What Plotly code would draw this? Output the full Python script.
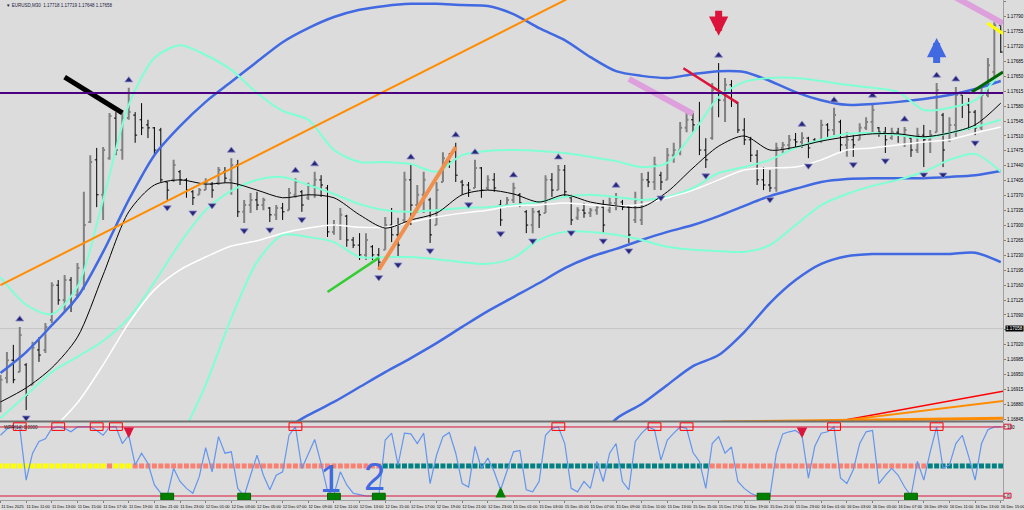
import plotly.graph_objects as go

# ---------------- data ----------------
bars = list(range(157))

open_ = [1.16891, 1.16942, 1.16984, 1.16956, 1.16973, 1.16926, 1.17008, 1.17008, 1.17078, 1.17160,
         1.17125, 1.17172, 1.17137, 1.17153, 1.17308, 1.17454, 1.17372, 1.17458, 1.17552, 1.17477,
         1.17552, 1.17559, 1.17548, 1.17536, 1.17529, 1.17524, 1.17402, 1.17407, 1.17426, 1.17407,
         1.17379, 1.17372, 1.17383, 1.17397, 1.17400, 1.17426, 1.17407, 1.17442, 1.17332, 1.17348,
         1.17360, 1.17348, 1.17341, 1.17325, 1.17341, 1.17336, 1.17372, 1.17379, 1.17365, 1.17393,
         1.17407, 1.17388, 1.17285, 1.17301, 1.17322, 1.17266, 1.17254, 1.17231, 1.17250, 1.17231,
         1.17243, 1.17301, 1.17278, 1.17313, 1.17407, 1.17348, 1.17372, 1.17360, 1.17301, 1.17402,
         1.17458, 1.17454, 1.17402, 1.17395, 1.17388, 1.17435, 1.17388, 1.17407, 1.17348, 1.17348,
         1.17360, 1.17372, 1.17332, 1.17301, 1.17332, 1.17329, 1.17407, 1.17383, 1.17430, 1.17365,
         1.17318, 1.17336, 1.17329, 1.17336, 1.17343, 1.17336, 1.17353, 1.17355, 1.17343, 1.17313,
         1.17313, 1.17407, 1.17402, 1.17418, 1.17407, 1.17465, 1.17477, 1.17529, 1.17548, 1.17536,
         1.17477, 1.17505, 1.17618, 1.17594, 1.17630, 1.17587, 1.17524, 1.17501, 1.17465, 1.17407,
         1.17395, 1.17388, 1.17482, 1.17489, 1.17501, 1.17496, 1.17505, 1.17501, 1.17498, 1.17536,
         1.17524, 1.17543, 1.17489, 1.17501, 1.17501, 1.17529, 1.17543, 1.17529, 1.17519, 1.17505,
         1.17519, 1.17512, 1.17505, 1.17477, 1.17512, 1.17501, 1.17519, 1.17559, 1.17501, 1.17536,
         1.17606, 1.17583, 1.17566, 1.17529, 1.17606, 1.17660, 1.17770]

high = [1.16949, 1.17003, 1.17020, 1.17062, 1.16977, 1.17027, 1.17038, 1.17071, 1.17167, 1.17172,
        1.17184, 1.17179, 1.17212, 1.17379, 1.17465, 1.17482, 1.17484, 1.17564, 1.17566, 1.17571,
        1.17623, 1.17566, 1.17587, 1.17548, 1.17531, 1.17529, 1.17402, 1.17454, 1.17430, 1.17411,
        1.17383, 1.17388, 1.17411, 1.17402, 1.17437, 1.17437, 1.17458, 1.17454, 1.17360, 1.17376,
        1.17379, 1.17365, 1.17343, 1.17348, 1.17353, 1.17388, 1.17411, 1.17383, 1.17400, 1.17426,
        1.17418, 1.17395, 1.17313, 1.17341, 1.17325, 1.17273, 1.17282, 1.17282, 1.17254, 1.17247,
        1.17320, 1.17341, 1.17318, 1.17426, 1.17442, 1.17395, 1.17426, 1.17365, 1.17402, 1.17472,
        1.17470, 1.17494, 1.17407, 1.17402, 1.17454, 1.17437, 1.17418, 1.17423, 1.17360, 1.17367,
        1.17400, 1.17376, 1.17336, 1.17341, 1.17336, 1.17418, 1.17423, 1.17442, 1.17442, 1.17372,
        1.17343, 1.17353, 1.17341, 1.17348, 1.17360, 1.17365, 1.17376, 1.17360, 1.17348, 1.17379,
        1.17423, 1.17426, 1.17461, 1.17426, 1.17482, 1.17494, 1.17543, 1.17564, 1.17564, 1.17590,
        1.17505, 1.17634, 1.17681, 1.17646, 1.17641, 1.17590, 1.17552, 1.17508, 1.17477, 1.17437,
        1.17430, 1.17494, 1.17496, 1.17512, 1.17517, 1.17519, 1.17508, 1.17505, 1.17548, 1.17540,
        1.17576, 1.17548, 1.17519, 1.17512, 1.17540, 1.17554, 1.17587, 1.17531, 1.17531, 1.17529,
        1.17529, 1.17531, 1.17508, 1.17529, 1.17536, 1.17524, 1.17634, 1.17564, 1.17554, 1.17625,
        1.17606, 1.17599, 1.17571, 1.17623, 1.17693, 1.17777, 1.17777]

low = [1.16862, 1.16930, 1.16930, 1.16956, 1.16867, 1.16926, 1.16980, 1.17001, 1.17071, 1.17114,
       1.17097, 1.17097, 1.17130, 1.17149, 1.17306, 1.17343, 1.17313, 1.17454, 1.17465, 1.17454,
       1.17548, 1.17494, 1.17512, 1.17505, 1.17465, 1.17402, 1.17360, 1.17402, 1.17395, 1.17365,
       1.17348, 1.17372, 1.17383, 1.17365, 1.17395, 1.17400, 1.17372, 1.17320, 1.17306, 1.17329,
       1.17336, 1.17336, 1.17308, 1.17313, 1.17313, 1.17336, 1.17365, 1.17332, 1.17360, 1.17365,
       1.17367, 1.17273, 1.17278, 1.17266, 1.17250, 1.17247, 1.17219, 1.17219, 1.17219, 1.17196,
       1.17243, 1.17261, 1.17226, 1.17308, 1.17301, 1.17329, 1.17329, 1.17259, 1.17301, 1.17402,
       1.17435, 1.17402, 1.17372, 1.17367, 1.17388, 1.17365, 1.17383, 1.17379, 1.17299, 1.17343,
       1.17353, 1.17343, 1.17282, 1.17282, 1.17294, 1.17329, 1.17367, 1.17383, 1.17367, 1.17301,
       1.17313, 1.17318, 1.17320, 1.17325, 1.17282, 1.17329, 1.17336, 1.17336, 1.17259, 1.17306,
       1.17301, 1.17390, 1.17383, 1.17383, 1.17407, 1.17447, 1.17465, 1.17519, 1.17517, 1.17465,
       1.17435, 1.17501, 1.17554, 1.17543, 1.17578, 1.17517, 1.17489, 1.17449, 1.17395, 1.17383,
       1.17379, 1.17379, 1.17470, 1.17477, 1.17482, 1.17482, 1.17458, 1.17494, 1.17494, 1.17508,
       1.17512, 1.17472, 1.17461, 1.17461, 1.17501, 1.17524, 1.17517, 1.17508, 1.17470, 1.17501,
       1.17494, 1.17484, 1.17461, 1.17470, 1.17437, 1.17470, 1.17519, 1.17437, 1.17496, 1.17508,
       1.17552, 1.17524, 1.17512, 1.17524, 1.17601, 1.17637, 1.17705]

close = [1.16938, 1.16984, 1.16938, 1.17043, 1.16902, 1.17013, 1.16996, 1.17062, 1.17160, 1.17125,
         1.17172, 1.17114, 1.17200, 1.17301, 1.17449, 1.17372, 1.17477, 1.17557, 1.17477, 1.17552,
         1.17566, 1.17512, 1.17529, 1.17529, 1.17477, 1.17407, 1.17383, 1.17442, 1.17407, 1.17383,
         1.17365, 1.17383, 1.17402, 1.17383, 1.17430, 1.17411, 1.17442, 1.17332, 1.17348, 1.17360,
         1.17348, 1.17360, 1.17325, 1.17341, 1.17332, 1.17376, 1.17402, 1.17348, 1.17393, 1.17407,
         1.17395, 1.17285, 1.17301, 1.17325, 1.17266, 1.17254, 1.17231, 1.17266, 1.17231, 1.17214,
         1.17301, 1.17278, 1.17254, 1.17407, 1.17348, 1.17372, 1.17407, 1.17278, 1.17383, 1.17458,
         1.17449, 1.17418, 1.17395, 1.17383, 1.17435, 1.17383, 1.17407, 1.17388, 1.17313, 1.17360,
         1.17388, 1.17353, 1.17301, 1.17332, 1.17325, 1.17407, 1.17383, 1.17430, 1.17379, 1.17313,
         1.17336, 1.17329, 1.17336, 1.17343, 1.17301, 1.17353, 1.17365, 1.17343, 1.17278, 1.17360,
         1.17407, 1.17402, 1.17442, 1.17402, 1.17465, 1.17477, 1.17529, 1.17548, 1.17536, 1.17477,
         1.17454, 1.17618, 1.17594, 1.17630, 1.17594, 1.17524, 1.17501, 1.17465, 1.17407, 1.17395,
         1.17388, 1.17482, 1.17489, 1.17501, 1.17496, 1.17505, 1.17482, 1.17498, 1.17536, 1.17524,
         1.17559, 1.17489, 1.17501, 1.17489, 1.17529, 1.17543, 1.17571, 1.17519, 1.17501, 1.17519,
         1.17512, 1.17524, 1.17477, 1.17512, 1.17501, 1.17512, 1.17618, 1.17477, 1.17536, 1.17606,
         1.17583, 1.17566, 1.17529, 1.17606, 1.17676, 1.17770, 1.17707]

# indicator lines, read every 4th bar
ind_x = list(range(0, 157, 4))
ma_fast = [1.16886, 1.16919, 1.16966, 1.17038, 1.17184, 1.17332, 1.17395, 1.17407, 1.17397, 1.17400,
           1.17383, 1.17365, 1.17372, 1.17365, 1.17325, 1.17294, 1.17313, 1.17329, 1.17372, 1.17383,
           1.17374, 1.17355, 1.17372, 1.17355, 1.17346, 1.17343, 1.17379, 1.17435, 1.17486, 1.17510,
           1.17477, 1.17484, 1.17498, 1.17508, 1.17515, 1.17515, 1.17508, 1.17517, 1.17536, 1.17587]
ma_slow = [1.16703, 1.16762, 1.16820, 1.16884, 1.16973, 1.17071, 1.17149, 1.17196, 1.17226, 1.17252,
           1.17264, 1.17282, 1.17294, 1.17301, 1.17296, 1.17296, 1.17308, 1.17320, 1.17329, 1.17336,
           1.17346, 1.17348, 1.17353, 1.17348, 1.17346, 1.17350, 1.17365, 1.17383, 1.17407, 1.17430,
           1.17435, 1.17437, 1.17454, 1.17477, 1.17482, 1.17489, 1.17496, 1.17501, 1.17517, 1.17531]
bb_up = [1.17179, 1.17114, 1.17092, 1.17156, 1.17360, 1.17583, 1.17693, 1.17723, 1.17700, 1.17665,
         1.17611, 1.17569, 1.17548, 1.17477, 1.17449, 1.17449, 1.17444, 1.17426, 1.17465, 1.17475,
         1.17477, 1.17475, 1.17470, 1.17461, 1.17451, 1.17437, 1.17447, 1.17517, 1.17601, 1.17637,
         1.17646, 1.17646, 1.17639, 1.17630, 1.17623, 1.17613, 1.17571, 1.17576, 1.17594, 1.17660]
bb_mid = [1.16848, 1.16902, 1.16956, 1.16992, 1.17029, 1.17083, 1.17167, 1.17259, 1.17336, 1.17381,
          1.17407, 1.17414, 1.17395, 1.17374, 1.17350, 1.17336, 1.17332, 1.17336, 1.17341, 1.17343,
          1.17348, 1.17355, 1.17367, 1.17372, 1.17367, 1.17360, 1.17367, 1.17388, 1.17423, 1.17437,
          1.17454, 1.17482, 1.17501, 1.17515, 1.17517, 1.17512, 1.17505, 1.17517, 1.17531, 1.17548]
bb_low = [1.16518, 1.16691, 1.16820, 1.16827, 1.16698, 1.16583, 1.16642, 1.16794, 1.16926, 1.17083,
          1.17214, 1.17278, 1.17273, 1.17261, 1.17226, 1.17226, 1.17226, 1.17221, 1.17214, 1.17210,
          1.17224, 1.17266, 1.17285, 1.17285, 1.17278, 1.17266, 1.17250, 1.17243, 1.17240, 1.17238,
          1.17254, 1.17301, 1.17348, 1.17374, 1.17393, 1.17407, 1.17426, 1.17454, 1.17468, 1.17426]
bb2_up = [1.16954, 1.17003, 1.17066, 1.17132, 1.17238, 1.17360, 1.17465, 1.17533, 1.17590, 1.17637,
          1.17684, 1.17730, 1.17763, 1.17789, 1.17806, 1.17815, 1.17820, 1.17820, 1.17817, 1.17815,
          1.17796, 1.17763, 1.17735, 1.17695, 1.17662, 1.17651, 1.17646, 1.17655, 1.17662, 1.17660,
          1.17639, 1.17613, 1.17594, 1.17583, 1.17585, 1.17590, 1.17597, 1.17606, 1.17620, 1.17639]
bb2_mid = [None] * 11 + [1.16820, 1.16855, 1.16886, 1.16921, 1.16956, 1.16989, 1.17024, 1.17062, 1.17099,
                         1.17132, 1.17165, 1.17200, 1.17226, 1.17245, 1.17266, 1.17285, 1.17301, 1.17322,
                         1.17346, 1.17369, 1.17386, 1.17402, 1.17409, 1.17411, 1.17411, 1.17411, 1.17414,
                         1.17418, 1.17428]
bb2_low = [None] * 23 + [1.16773, 1.16846, 1.16881, 1.16926, 1.16970, 1.16996, 1.17050, 1.17118, 1.17172,
                         1.17210, 1.17228, 1.17233, 1.17233, 1.17233, 1.17233, 1.17236, 1.17214]

# oscillator (sub window)
osc = [88, 97, 100, 99, 23, 62, 79, 83, 98, 100,
       98, 93, 100, 100, 100, 95, 88, 100, 100, 76,
       88, 45, 62, 47, 16, 4, 0, 40, 21, 11,
       4, 28, 70, 35, 86, 62, 64, 11, 0, 30,
       59, 30, 9, 30, 35, 88, 100, 40, 62, 82,
       47, 7, 2, 35, 16, 4, 2, 0, 0, 0,
       81, 91, 45, 91, 90, 76, 91, 18, 59, 86,
       92, 62, 18, 13, 72, 40, 55, 35, 9, 35,
       64, 66, 9, 6, 21, 88, 98, 100, 76, 11,
       6, 21, 11, 50, 21, 62, 76, 21, 9, 79,
       91, 100, 96, 52, 81, 91, 100, 98, 63, 50,
       11, 76, 86, 62, 71, 21, 11, 4, 0, 0,
       0, 62, 90, 93, 95, 88, 26, 72, 91, 93,
       100, 26, 18, 38, 76, 93, 95, 18, 30, 40,
       30, 13, 0, 50, 23, 64, 100, 40, 45, 76,
       88, 57, 23, 76, 96, 100, 100]
state_runs = [("Y", 17), ("S", 1), ("Y", 3), ("S", 39), ("T", 51), ("S", 34), ("T", 12)]
ob_marks = [3, 9, 15, 18, 46, 87, 102, 107, 130, 146]
os_marks = [26, 38, 52, 59, 119, 142]
sub_dn_arrows = [(20, 84), (125, 84)]
sub_up_arrows = [(78, 13)]
sub_texts = [("1", 51.4, 25), ("2", 58.4, 27)]

# fractals
frac_up = [3, 20, 36, 46, 49, 64, 71, 74, 80, 87, 96, 112, 125, 130, 136, 141, 146, 149]
frac_dn = [4, 26, 30, 33, 38, 42, 47, 59, 62, 67, 73, 78, 83, 89, 94, 98, 103, 110, 120, 126,
           133, 138, 144, 147, 152]

# big signal arrows (bar, price of tip)
sig_dn = (112, 1.17745)
sig_up = (146, 1.17740)

# objects: trend lines (bar0, price0, bar1, price1)
tl_x0 = [0, 59, 51, 10, 98, 148, 106.5, 151.5, 153.9, 130, 130.5, 112.4]
tl_y0 = [1.17160, 1.17196, 1.17144, 1.17648, 1.17644, 1.17843, 1.17669, 1.17613, 1.17775, 1.16839, 1.16841, 1.16839]
tl_x1 = [156, 71, 59, 19, 108, 156.35, 115, 156.35, 156.35, 156.35, 156.35, 156.35]
tl_y1 = [1.18345, 1.17484, 1.17224, 1.17564, 1.17562, 1.17774, 1.17587, 1.17660, 1.17750, 1.16911, 1.16888, 1.16848]
tl_style = [("#FF8C00", 2), ("#F0904C", 4), ("#32CD32", 2.5), ("#000000", 5), ("#DDA0DD", 6),
            ("#DDA0DD", 6), ("#DC143C", 2.5), ("#006400", 3), ("#FFFF00", 3), ("#FF0000", 1.5),
            ("#FF8C00", 2), ("#FF8C00", 3)]
hline_level = 1.17611
bid_price = 1.17058

tick_idx = list(range(0, 157, 4))
tick_text = ["11 Dec 2025", "11 Dec 11:00", "11 Dec 13:00", "11 Dec 15:00", "11 Dec 17:00",
             "11 Dec 19:00", "11 Dec 21:00", "11 Dec 23:00", "12 Dec 01:00", "12 Dec 03:00",
             "12 Dec 05:00", "12 Dec 07:00", "12 Dec 09:00", "12 Dec 11:00", "12 Dec 13:00",
             "12 Dec 15:00", "12 Dec 17:00", "12 Dec 19:00", "12 Dec 21:00", "12 Dec 23:00",
             "15 Dec 01:00", "15 Dec 03:00", "15 Dec 05:00", "15 Dec 07:00", "15 Dec 09:00",
             "15 Dec 11:00", "15 Dec 13:00", "15 Dec 15:00", "15 Dec 17:00", "15 Dec 19:00",
             "15 Dec 21:00", "15 Dec 23:00", "16 Dec 01:00", "16 Dec 03:00", "16 Dec 05:00",
             "16 Dec 07:00", "16 Dec 09:00", "16 Dec 11:00", "16 Dec 13:00", "16 Dec 15:00"]
price_ticks = ["1.17825", "1.17790", "1.17755", "1.17720", "1.17685", "1.17650", "1.17615", "1.17580",
               "1.17545", "1.17510", "1.17475", "1.17440", "1.17405", "1.17370", "1.17335", "1.17300",
               "1.17265", "1.17230", "1.17195", "1.17160", "1.17125", "1.17090", "1.17055", "1.17020",
               "1.16985", "1.16950", "1.16915", "1.16880", "1.16845"]

# ---------------- figure ----------------
BG = "#DCDCDC"
FONT = "Liberation Sans"
fig = go.Figure()

fig.add_trace(go.Ohlc(x=bars, open=open_, high=high, low=low, close=close,
                      increasing=dict(line=dict(color="#808080", width=2)),
                      decreasing=dict(line=dict(color="#000000", width=1)),
                      tickwidth=0.3, xaxis="x", yaxis="y", hoverinfo="skip", showlegend=False))


def add_line(xs, ys, color, width, yaxis="y", shape="spline"):
    fig.add_trace(go.Scatter(x=xs, y=ys, mode="lines", xaxis="x", yaxis=yaxis,
                             line=dict(color=color, width=width, shape=shape, smoothing=0.8),
                             hoverinfo="skip", showlegend=False))


for s in (bb2_up, bb2_mid, bb2_low):
    add_line(ind_x, s, "#4169E1", 2.5)
for s in (bb_up, bb_mid, bb_low):
    add_line(ind_x, s, "#7FFFD4", 2)
add_line(ind_x, ma_slow, "#FFFFFF", 1.5)
add_line(ind_x, ma_fast, "#000000", 1)

for x0, y0, x1, y1, (c, w) in zip(tl_x0, tl_y0, tl_x1, tl_y1, tl_style):
    add_line([x0, x1], [y0, y1], c, w, shape="linear")

# fractal markers
off = 0.00018
fig.add_trace(go.Scatter(x=frac_up, y=[high[i] + off for i in frac_up], mode="markers",
                         marker=dict(symbol="triangle-up", size=7, color="#26267A",
                                     line=dict(color="#9090C8", width=0.8)),
                         xaxis="x", yaxis="y", hoverinfo="skip", showlegend=False))
fig.add_trace(go.Scatter(x=frac_dn, y=[low[i] - off for i in frac_dn], mode="markers",
                         marker=dict(symbol="triangle-down", size=7, color="#26267A",
                                     line=dict(color="#9090C8", width=0.8)),
                         xaxis="x", yaxis="y", hoverinfo="skip", showlegend=False))

# sub window
state = []
for k, n in state_runs:
    state += [k] * n
cmap = {"Y": "#FFFF00", "S": "#FA8072", "T": "#008080"}
fig.add_trace(go.Scatter(x=bars, y=[43.5] * len(bars), mode="markers",
                         marker=dict(symbol="square", size=5, color=[cmap[s] for s in state], line=dict(width=0)),
                         xaxis="x", yaxis="y2", hoverinfo="skip", showlegend=False))
add_line(bars, osc, "#6495ED", 1.2, yaxis="y2", shape="linear")

shapes = []
shapes.append(dict(type="line", xref="paper", yref="paper", x0=0, x1=1, y0=0.157, y1=0.157,
                   line=dict(color="#707070", width=2)))
for lvl in (100, 0):
    shapes.append(dict(type="line", xref="paper", yref="y2", x0=0, x1=1, y0=lvl, y1=lvl,
                       line=dict(color="#DC143C", width=1)))
shapes.append(dict(type="line", xref="paper", yref="y", x0=0, x1=1, y0=bid_price, y1=bid_price,
                   line=dict(color="#C4C4C4", width=1), layer="below"))
shapes.append(dict(type="line", xref="paper", yref="y", x0=0, x1=1, y0=hline_level, y1=hline_level,
                   line=dict(color="#4B0082", width=2)))
for c in ob_marks:
    shapes.append(dict(type="rect", xref="x", yref="y2", x0=c - 1, x1=c + 1, y0=95, y1=106,
                       line=dict(color="#FF0000", width=1)))
for c in os_marks:
    shapes.append(dict(type="rect", xref="x", yref="y2", x0=c - 1, x1=c + 1, y0=-5.5, y1=4,
                       fillcolor="#008000", line=dict(color="#006400", width=1)))
for lvl in (100, 0):
    shapes.append(dict(type="rect", xref="paper", yref="y2", x0=1.001, x1=1.008, y0=lvl - 3, y1=lvl + 4,
                       line=dict(color="#DC143C", width=1)))

ann = []
ann.append(dict(x=sig_dn[0], y=sig_dn[1], xref="x", yref="y", ax=0, ay=-27, text=" ", font=dict(size=1),
                showarrow=True, arrowhead=2, arrowsize=0.55, arrowwidth=7, arrowcolor="#DC143C", standoff=0))
ann.append(dict(x=sig_up[0], y=sig_up[1], xref="x", yref="y", ax=0, ay=27, text=" ", font=dict(size=1),
                showarrow=True, arrowhead=2, arrowsize=0.55, arrowwidth=7, arrowcolor="#4169E1", standoff=0))
for b, v in sub_dn_arrows:
    ann.append(dict(x=b, y=v, xref="x", yref="y2", ax=0, ay=-12, text=" ", font=dict(size=1),
                    showarrow=True, arrowhead=2, arrowsize=0.6, arrowwidth=3.5, arrowcolor="#DC143C", standoff=0))
for b, v in sub_up_arrows:
    ann.append(dict(x=b, y=v, xref="x", yref="y2", ax=0, ay=12, text=" ", font=dict(size=1),
                    showarrow=True, arrowhead=2, arrowsize=0.6, arrowwidth=3.5, arrowcolor="#008000", standoff=0))
for t, b, v in sub_texts:
    ann.append(dict(x=b, y=v, xref="x", yref="y2", text=t, showarrow=False,
                    font=dict(size=38, color="#4169E1", family=FONT)))
ann.append(dict(x=0.004, y=0.998, xref="paper", yref="paper", xanchor="left", yanchor="top", showarrow=False,
                text="▼ EURUSD,M30  1.17718 1.17719 1.17648 1.17658",
                font=dict(size=4.5, color="#202040", family=FONT)))
ann.append(dict(x=0.002, y=0.155, xref="paper", yref="paper", xanchor="left", yanchor="top", showarrow=False,
                text="WPR(14) 0.0000", font=dict(size=4.5, color="#202020", family=FONT)))
ann.append(dict(x=1, y=bid_price, xref="paper", yref="y", xanchor="left", xshift=2, showarrow=False,
                text="1.17058", bgcolor="#000000", borderpad=0, font=dict(size=4.5, color="#FFFFFF", family=FONT)))

axis_font = dict(size=4.5, color="#000000", family=FONT)
fig.update_layout(
    width=1024, height=510, margin=dict(l=0, r=21, t=0, b=10),
    paper_bgcolor=BG, plot_bgcolor=BG, showlegend=False,
    shapes=shapes, annotations=ann,
    xaxis=dict(domain=[0, 1], range=[-0.08, 156.35], anchor="y2", showgrid=False, zeroline=False,
               tickmode="array", tickvals=tick_idx, ticktext=tick_text, tickangle=0,
               tickfont=dict(size=4, color="#000000", family=FONT),
               ticks="outside", ticklen=2, tickcolor="#808080", showline=True, linecolor="#A0A0A0", linewidth=1,
               ticklabelshift=12, ticklabeloverflow="allow", rangeslider=dict(visible=False), fixedrange=True),
    yaxis=dict(domain=[0.158, 1], range=[1.168413, 1.17829], side="right", anchor="x", showgrid=False,
               zeroline=False, tickmode="array", tickvals=[float(s) for s in price_ticks], ticktext=price_ticks,
               tickfont=axis_font, ticks="outside", ticklen=2, tickcolor="#808080",
               showline=True, linecolor="#A0A0A0", linewidth=1, fixedrange=True),
    yaxis2=dict(domain=[0, 0.156], range=[-5.8, 107.2], side="right", anchor="x", showgrid=False,
                zeroline=False, tickmode="array", tickvals=[0, 100], ticktext=["0", "100"],
                tickfont=axis_font, ticks="outside", ticklen=2, tickcolor="#808080",
                showline=True, linecolor="#A0A0A0", linewidth=1, fixedrange=True),
)

fig.write_html("out.html", config={"displayModeBar": False},
               post_script="document.body.style.margin='0';document.body.style.padding='0';"
                           "document.body.style.overflow='hidden';")
